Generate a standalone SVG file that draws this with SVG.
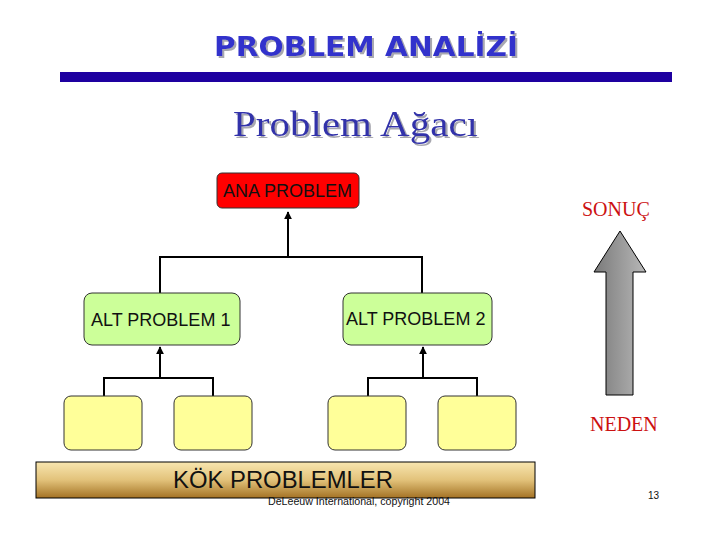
<svg xmlns="http://www.w3.org/2000/svg" width="720" height="540" viewBox="0 0 720 540">
<style>
.lbl{font-family:"Liberation Sans",Arial,sans-serif;font-size:18px;fill:#111}
.conn{stroke:#000;stroke-width:2;fill:none}
.leaf{fill:#ffff99;stroke:#333;stroke-width:1}
.sub{fill:#ccff99;stroke:#333;stroke-width:1}
.red{font-family:"Liberation Serif","Times New Roman",serif;font-size:20px;fill:#cc1111}
</style>
<defs>
<marker id="ah" viewBox="0 0 10 10" refX="9" refY="5" markerWidth="4" markerHeight="4" orient="auto">
<path d="M0,0 L10,5 L0,10 z" fill="#000"/>
</marker>
<filter id="shadow" x="-5%" y="-20%" width="110%" height="150%">
<feDropShadow dx="2" dy="2" stdDeviation="0.3" flood-color="#a8a8b0" flood-opacity="1"/>
</filter>
<linearGradient id="gold" x1="0" y1="0" x2="0" y2="1">
<stop offset="0" stop-color="#f8e6b0"/>
<stop offset="0.5" stop-color="#e2c27a"/>
<stop offset="1" stop-color="#a47224"/>
</linearGradient>
<linearGradient id="gray" x1="0" y1="0" x2="1" y2="0">
<stop offset="0" stop-color="#7a7a7a"/>
<stop offset="1" stop-color="#b8b8b8"/>
</linearGradient>
</defs>
<rect width="720" height="540" fill="#fff"/>
<g id="title">
<text x="214" y="56" textLength="304" lengthAdjust="spacingAndGlyphs" font-family="Verdana,'DejaVu Sans',sans-serif" font-weight="bold" font-size="26" fill="#3333cc" filter="url(#shadow)">PROBLEM ANALİZİ</text>
<rect x="60" y="72" width="612" height="10" fill="#1e00a0"/>
<text x="233" y="136" textLength="245" lengthAdjust="spacingAndGlyphs" font-family="'Liberation Serif','Times New Roman',serif" font-size="36" fill="#3333aa" filter="url(#shadow)">Problem Ağacı</text>
</g>
<g id="connectors">
<path class="conn" d="M288,257 V212" marker-end="url(#ah)"/>
<path class="conn" d="M160,295 V257 H422 V295"/>
<path class="conn" d="M160,378 V347" marker-end="url(#ah)"/>
<path class="conn" d="M104,396 V378 H213 V396"/>
<path class="conn" d="M423,378 V347" marker-end="url(#ah)"/>
<path class="conn" d="M368,396 V378 H477 V396"/>
</g>
<g id="ana">
<rect x="217" y="173" width="142" height="35" rx="5" fill="#ff0000" stroke="#333" stroke-width="1"/>
<text class="lbl" x="223" y="197">ANA PROBLEM</text>
</g>
<g id="alt1">
<rect class="sub" x="84" y="293" width="156" height="52" rx="8"/>
<text class="lbl" x="91" y="326">ALT PROBLEM 1</text>
</g>
<g id="alt2">
<rect class="sub" x="343" y="293" width="149" height="52" rx="8"/>
<text class="lbl" x="346" y="325">ALT PROBLEM 2</text>
</g>
<g id="leaf1"><rect class="leaf" x="64" y="396" width="78" height="54" rx="7"/></g>
<g id="leaf2"><rect class="leaf" x="174" y="396" width="78" height="54" rx="7"/></g>
<g id="leaf3"><rect class="leaf" x="328" y="396" width="78" height="54" rx="7"/></g>
<g id="leaf4"><rect class="leaf" x="438" y="396" width="78" height="54" rx="7"/></g>
<g id="kok">
<rect x="36" y="462" width="499" height="36" fill="url(#gold)" stroke="#000" stroke-width="1"/>
<text x="173" y="488" textLength="220" lengthAdjust="spacingAndGlyphs" font-family="'Liberation Sans',Arial,sans-serif" font-size="23" fill="#111">KÖK PROBLEMLER</text>
</g>
<g id="neden-sonuc">
<text class="red" x="582" y="216">SONUÇ</text>
<path d="M620,231 L646,272 L633,272 L633,395 L606,395 L606,272 L594,272 Z" fill="url(#gray)" stroke="#000" stroke-width="1"/>
<text class="red" x="590" y="431">NEDEN</text>
</g>
<text x="268" y="505" textLength="182" lengthAdjust="spacingAndGlyphs" font-family="'Liberation Sans',Arial,sans-serif" font-size="10.5" fill="#111">DeLeeuw International, copyright 2004</text>
<text x="648" y="499" font-family="'Liberation Sans',Arial,sans-serif" font-size="10" fill="#111">13</text>
</svg>
